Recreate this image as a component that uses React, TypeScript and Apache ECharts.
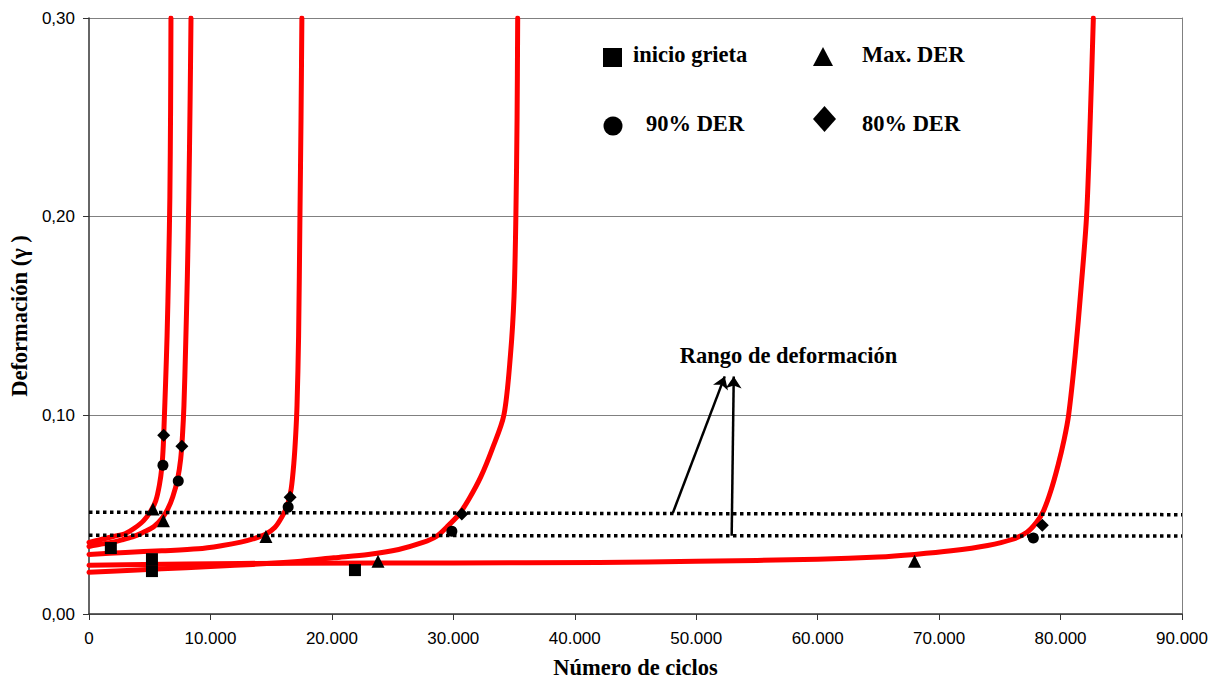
import { useEffect, useRef } from "react";
import * as echarts from "echarts";

// Fitted strain curves, one per specimen: [cycles, strain]
const curveA: [number, number][] = [
  [0, 0.036], [1000, 0.0375], [2000, 0.039], [3000, 0.0405], [3700, 0.043],
  [4500, 0.047], [5100, 0.052], [5500, 0.057], [5800, 0.065], [6000, 0.074],
  [6120, 0.085], [6200, 0.098], [6300, 0.115], [6430, 0.14], [6560, 0.175],
  [6660, 0.21], [6720, 0.255], [6750, 0.3],
];
const curveB: [number, number][] = [
  [0, 0.034], [1000, 0.0352], [1800, 0.036], [2800, 0.0375], [3700, 0.039],
  [4600, 0.0415], [5350, 0.044], [6000, 0.048], [6500, 0.053], [6900, 0.059],
  [7300, 0.068], [7550, 0.078], [7700, 0.09], [7820, 0.105], [7960, 0.135],
  [8100, 0.17], [8220, 0.21], [8330, 0.26], [8400, 0.3],
];
const curveC: [number, number][] = [
  [0, 0.03], [3000, 0.031], [6000, 0.0318], [9000, 0.0328], [11000, 0.0345],
  [12500, 0.0362], [13500, 0.0378], [14500, 0.04], [15300, 0.0435], [15900, 0.049],
  [16350, 0.055], [16650, 0.063], [16870, 0.076], [17020, 0.09], [17130, 0.105],
  [17260, 0.14], [17370, 0.2], [17460, 0.25], [17530, 0.3],
];
const curveD: [number, number][] = [
  [0, 0.021], [4000, 0.0222], [8000, 0.0233], [12000, 0.0245], [15000, 0.0255],
  [17450, 0.0266], [20160, 0.0283], [23000, 0.03], [25500, 0.0325], [27500, 0.036],
  [28600, 0.039], [29500, 0.044], [30450, 0.05], [31300, 0.058], [32260, 0.069],
  [33200, 0.083], [34160, 0.1], [34700, 0.13], [35000, 0.16], [35150, 0.2],
  [35250, 0.25], [35300, 0.3],
];
const curveE: [number, number][] = [
  [0, 0.0245], [8000, 0.0252], [17000, 0.0256], [30000, 0.0257], [42000, 0.0259],
  [50000, 0.0265], [60000, 0.0276], [65000, 0.0287], [68000, 0.03], [71000, 0.0318],
  [74000, 0.0345], [76000, 0.0375], [77200, 0.041], [78000, 0.046], [78600, 0.052],
  [79200, 0.062], [79800, 0.075], [80300, 0.088], [80660, 0.1], [81200, 0.13],
  [81700, 0.165], [82140, 0.2], [82450, 0.25], [82700, 0.3],
];

// Measured events
const crackStart: [number, number][] = [
  [1800, 0.0332], [5185, 0.0276], [5185, 0.0216], [21900, 0.0221],
];
const maxDER: [number, number][] = [
  [5270, 0.0528], [6130, 0.047], [14570, 0.039], [23800, 0.0266], [67980, 0.0266],
];
const der90: [number, number][] = [
  [6090, 0.0749], [7350, 0.0669], [16400, 0.0538], [29880, 0.0417], [77760, 0.0382],
];
const der80: [number, number][] = [
  [6150, 0.09], [7650, 0.0844], [16560, 0.0588], [30700, 0.0503], [78500, 0.0447],
];

// Strain range limits
const rangeUpper: [number, number][] = [[0, 0.0512], [90000, 0.05]];
const rangeLower: [number, number][] = [[0, 0.0396], [90000, 0.0392]];

// Annotation arrows: [from, to]
const arrowUpper: [number, number][] = [[48070, 0.0508], [52350, 0.1196]];
const arrowLower: [number, number][] = [[52920, 0.0394], [53090, 0.1196]];
const rangeLabel = "Rango de deformación";
const rangeLabelAt: [number, number] = [57600, 0.1302];

const xMin = 0;
const xMax = 90000;
const xStep = 10000;
const yMin = 0;
const yMax = 0.3;
const yStep = 0.1;

const SERIF = "'Liberation Serif', 'Times New Roman', serif";
const SANS = "'Liberation Sans', Arial, sans-serif";
const TITLE_SIZE = 22.5;

function fmtThousands(v: number): string {
  return String(Math.round(v)).replace(/\B(?=(\d{3})+(?!\d))/g, ".");
}

export default function App() {
  const ref = useRef<HTMLDivElement>(null);

  useEffect(() => {
    if (!ref.current) return;
    const chart = echarts.init(ref.current, null, { renderer: "svg" });

    const curve = (data: [number, number][]) => ({
      type: "line",
      data,
      showSymbol: false,
      smooth: 0.3,
      lineStyle: { color: "#ff0000", width: 5, cap: "round", join: "round" },
      itemStyle: { color: "#ff0000" },
      z: 2,
      silent: true,
    });

    const dotted = (data: [number, number][], extra: any = {}) => ({
      type: "line",
      data,
      showSymbol: false,
      lineStyle: { color: "#000", width: 3.5, type: [3.5, 3.5] },
      z: 3,
      silent: true,
      ...extra,
    });

    const marks = (data: [number, number][], symbol: string, size: number) => ({
      type: "scatter",
      data,
      symbol,
      symbolSize: size,
      itemStyle: { color: "#000", opacity: 1 },
      z: 5,
      silent: true,
    });

    const labelFont = { fontFamily: SERIF, fontWeight: "bold", fontSize: TITLE_SIZE, color: "#000" };
    const legendFont = `bold ${TITLE_SIZE}px ${SERIF}`;

    chart.setOption({
      animation: false,
      backgroundColor: "#fff",
      grid: { left: 88, right: 38, top: 18, bottom: 69, containLabel: false },
      xAxis: {
        type: "value",
        min: xMin,
        max: xMax,
        interval: xStep,
        name: "Número de ciclos",
        nameLocation: "middle",
        nameGap: 42,
        nameTextStyle: labelFont,
        axisLine: { show: true, onZero: false, lineStyle: { color: "#333", width: 1.5 } },
        axisTick: { show: true, length: 6, lineStyle: { color: "#333" } },
        axisLabel: {
          margin: 16,
          fontFamily: SANS,
          fontSize: 17,
          color: "#000",
          formatter: (v: number) => fmtThousands(v),
        },
        splitLine: { show: false },
      },
      yAxis: [
        {
          type: "value",
          min: yMin,
          max: yMax,
          interval: yStep,
          name: "Deformación (γ )",
          nameLocation: "middle",
          nameGap: 57,
          nameRotate: 90,
          nameTextStyle: labelFont,
          axisLine: { show: true, onZero: false, lineStyle: { color: "#333", width: 1.5 } },
          axisTick: { show: true, length: 6, lineStyle: { color: "#333" } },
          axisLabel: {
            margin: 14,
            fontFamily: SANS,
            fontSize: 17,
            color: "#000",
            formatter: (v: number) => v.toFixed(2).replace(".", ","),
          },
          splitLine: { show: true, lineStyle: { color: "#808080", width: 1 } },
        },
        {
          type: "value",
          position: "right",
          min: yMin,
          max: yMax,
          interval: yStep,
          axisLine: { show: true, onZero: false, lineStyle: { color: "#808080", width: 1 } },
          axisTick: { show: false },
          axisLabel: { show: false },
          splitLine: { show: false },
        },
      ],
      series: [
        curve(curveE),
        curve(curveD),
        curve(curveC),
        curve(curveB),
        curve(curveA),
        dotted(rangeLower),
        dotted(rangeUpper, {
          markLine: {
            silent: true,
            symbol: ["none", "arrow"],
            symbolSize: 12,
            label: { show: false },
            lineStyle: { color: "#000", width: 2.5, type: "solid" },
            itemStyle: { color: "#000" },
            data: [
              [{ coord: arrowUpper[0] }, { coord: arrowUpper[1] }],
              [{ coord: arrowLower[0] }, { coord: arrowLower[1] }],
            ],
          },
          markPoint: {
            silent: true,
            symbol: "circle",
            symbolSize: 0,
            label: {
              show: true,
              position: "inside",
              formatter: rangeLabel,
              ...labelFont,
            },
            data: [{ coord: rangeLabelAt }],
          },
        }),
        marks(crackStart, "rect", 12),
        marks(maxDER, "triangle", 13),
        marks(der90, "circle", 11),
        marks(der80, "diamond", 13),
      ],
      graphic: [
        { type: "rect", shape: { x: 603, y: 48, width: 19, height: 19 }, style: { fill: "#000" } },
        {
          type: "text", x: 633, y: 54,
          style: { text: "inicio grieta", fill: "#000", font: legendFont, verticalAlign: "middle" },
        },
        { type: "polygon", shape: { points: [[823, 47], [813, 66], [833, 66]] }, style: { fill: "#000" } },
        {
          type: "text", x: 862, y: 54,
          style: { text: "Max. DER", fill: "#000", font: legendFont, verticalAlign: "middle" },
        },
        { type: "circle", shape: { cx: 613, cy: 126, r: 9.5 }, style: { fill: "#000" } },
        {
          type: "text", x: 646, y: 123,
          style: { text: "90% DER", fill: "#000", font: legendFont, verticalAlign: "middle" },
        },
        {
          type: "polygon",
          shape: { points: [[824.5, 106], [836, 119], [824.5, 132], [813, 119]] },
          style: { fill: "#000" },
        },
        {
          type: "text", x: 862, y: 123,
          style: { text: "80% DER", fill: "#000", font: legendFont, verticalAlign: "middle" },
        },
      ],
    });

    return () => chart.dispose();
  }, []);

  return (
    <div
      ref={ref}
      style={{ position: "fixed", left: 0, top: 0, width: 1220, height: 684, background: "#fff" }}
    />
  );
}
